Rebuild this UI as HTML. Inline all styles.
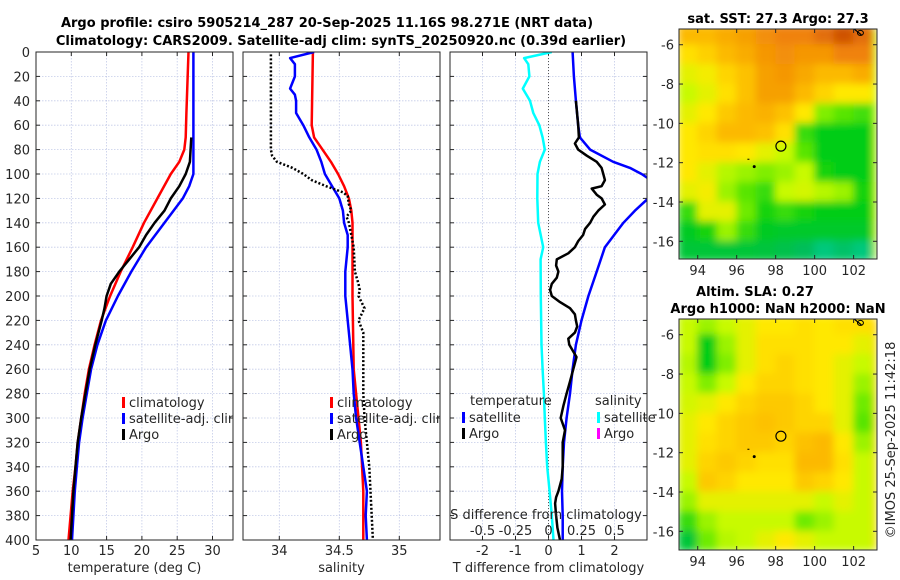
<!DOCTYPE html>
<html><head><meta charset="utf-8"><style>
body{margin:0;background:#fff}
svg{display:block;font-family:"DejaVu Sans","Liberation Sans",sans-serif}
</style></head><body>
<svg id="fig" width="900" height="580" xmlns="http://www.w3.org/2000/svg">
<text x="327" y="27" text-anchor="middle" font-size="13" font-weight="bold">Argo profile: csiro 5905214_287 20-Sep-2025 11.16S 98.271E (NRT data)</text>
<text x="341" y="45" text-anchor="middle" font-size="13" font-weight="bold">Climatology: CARS2009. Satellite-adj clim: synTS_20250920.nc (0.39d earlier)</text>
<text x="778" y="23" text-anchor="middle" font-size="13" font-weight="bold">sat. SST: 27.3 Argo: 27.3</text>
<text x="755" y="296" text-anchor="middle" font-size="13" font-weight="bold">Altim. SLA: 0.27</text>
<text x="778" y="313" text-anchor="middle" font-size="13" font-weight="bold">Argo h1000: NaN h2000: NaN</text>
<text transform="translate(895,440) rotate(-90)" text-anchor="middle" font-size="13" fill="#262626">©IMOS 25-Sep-2025 11:42:18</text>
<defs><filter id="blur" x="0" y="0" width="1" height="1"><feGaussianBlur stdDeviation="4" edgeMode="duplicate"/></filter></defs>
</svg>
<script>
// ---- data ----
const depthTicks=[0,20,40,60,80,100,120,140,160,180,200,220,240,260,280,300,320,340,360,380,400];
const tempTicks=[5,10,15,20,25,30];
const salTicks=[34,34.5,35];
const tdiffTicks=[-2,-1,0,1,2];
const sdiffTicks=[-0.5,-0.25,0,0.25,0.5];
const sdiffTickLabels=['-0.5','-0.25','0','0.25','0.5'];
const tClimDepth=[0,50,70,80,90,100,120,140,160,180,200,220,240,260,280,300,320,340,360,380,400];
const tClimVal=[26.6,26.3,26.2,26.0,25.3,24.1,22.2,20.3,18.7,17.0,15.5,14.2,13.3,12.5,11.9,11.4,10.9,10.6,10.2,9.9,9.6];
const tSatDepth=[0,100,110,120,140,160,180,200,220,240,260,280,300,320,340,360,380,400];
const tSatVal=[27.3,27.3,26.7,25.8,23.2,20.6,18.5,16.6,14.9,13.7,12.8,12.2,11.6,11.1,10.8,10.5,10.3,10.1];
const tArgoDepth=[70,90,100,110,120,130,140,150,160,170,180,190,200,210,220,240,260,280,300,320,340,360,380,400];
const tArgoVal=[27.0,26.8,26.2,25.3,24.1,23.2,21.8,20.6,19.6,18.2,16.8,15.6,15.0,14.7,14.3,13.4,12.6,12.0,11.4,10.9,10.6,10.3,10.1,9.9];
const sClimDepth=[0,60,70,80,90,100,110,120,130,140,200,260,280,300,320,340,360,400];
const sClimVal=[34.28,34.27,34.29,34.36,34.43,34.49,34.54,34.58,34.60,34.61,34.61,34.62,34.64,34.66,34.68,34.69,34.70,34.70];
const sSatDepth=[0,5,10,20,25,30,35,40,50,60,70,80,90,100,110,120,130,140,150,160,170,180,200,220,240,260,280,300,320,340,360,380,400];
const sSatVal=[34.29,34.09,34.13,34.13,34.11,34.09,34.13,34.14,34.14,34.20,34.25,34.31,34.35,34.38,34.44,34.50,34.53,34.54,34.57,34.57,34.56,34.55,34.55,34.57,34.59,34.61,34.62,34.64,34.67,34.70,34.73,34.72,34.73];
const sArgoDepth=[2,80,85,90,95,100,105,110,115,118,125,130,135,140,160,180,190,195,200,210,220,230,240,260,280,300,320,340,360,380,400];
const sArgoVal=[33.93,33.93,33.94,33.98,34.11,34.20,34.27,34.39,34.53,34.57,34.58,34.60,34.56,34.58,34.62,34.63,34.66,34.67,34.66,34.71,34.66,34.70,34.70,34.70,34.70,34.71,34.73,34.75,34.76,34.77,34.78];
const dTSatDepth=[0,20,40,60,70,80,90,95,100,105,110,115,120,130,140,160,180,200,220,240,260,280,300,320,340,360,380,400];
const dTSatVal=[0.73,0.77,0.83,0.90,0.95,1.26,1.96,2.47,2.82,3.1,3.3,3.3,3.02,2.62,2.27,1.71,1.46,1.21,1.0,0.83,0.73,0.65,0.55,0.47,0.43,0.41,0.43,0.43];
const dTArgoDepth=[40,60,70,75,80,85,90,95,100,105,110,112,117,120,125,130,135,140,145,150,155,160,165,170,175,180,185,190,195,200,205,210,215,220,225,230,235,240,250,255,260,270,280,290,300,310,320,340,350,360,365,370,380,390,400];
const dTArgoVal=[0.83,0.90,0.92,0.80,0.90,1.16,1.46,1.61,1.66,1.71,1.61,1.31,1.46,1.61,1.71,1.51,1.36,1.26,1.11,1.05,0.90,0.80,0.60,0.25,0.23,0.30,0.25,0.10,0.05,0.10,0.35,0.65,0.80,0.83,0.87,0.80,0.60,0.63,0.85,0.80,0.75,0.65,0.55,0.45,0.37,0.50,0.43,0.43,0.40,0.30,0.23,0.20,0.23,0.27,0.35];
const dSSatDepth=[0,5,10,20,30,40,50,60,70,80,90,100,120,140,160,170,200,240,260,280,300,320,340,360,380,400];
const dSSatVal=[0.025,-0.185,-0.153,-0.145,-0.195,-0.14,-0.115,-0.07,-0.045,-0.028,-0.065,-0.083,-0.085,-0.078,-0.04,-0.06,-0.058,-0.053,-0.045,-0.035,-0.028,-0.02,-0.01,0.008,0.025,0.038];
const mapLons=[93.5,94.5,95.5,96.5,97.5,98.5,99.5,100.5,101.5,102.5];
const mapLats=[-5.5,-6.5,-7.5,-8.5,-9.5,-10.5,-11.5,-12.5,-13.5,-14.5,-15.5,-16.5];
const sstGrid=[
[0.72,0.72,0.75,0.78,0.82,0.85,0.85,0.88,0.92,0.88],
[0.62,0.66,0.72,0.75,0.8,0.82,0.8,0.8,0.85,0.85],
[0.55,0.58,0.65,0.7,0.78,0.8,0.76,0.72,0.72,0.75],
[0.5,0.55,0.62,0.7,0.78,0.78,0.72,0.65,0.6,0.6],
[0.55,0.6,0.68,0.72,0.74,0.7,0.6,0.42,0.38,0.36],
[0.6,0.65,0.72,0.72,0.7,0.62,0.35,0.3,0.3,0.3],
[0.6,0.62,0.62,0.6,0.55,0.5,0.38,0.3,0.3,0.3],
[0.6,0.55,0.48,0.45,0.42,0.45,0.5,0.32,0.3,0.3],
[0.55,0.58,0.45,0.38,0.35,0.5,0.52,0.48,0.45,0.32],
[0.35,0.55,0.55,0.4,0.32,0.35,0.32,0.3,0.3,0.3],
[0.28,0.32,0.45,0.35,0.28,0.27,0.27,0.27,0.27,0.27],
[0.25,0.25,0.25,0.25,0.24,0.22,0.2,0.15,0.18,0.15]];
const slaGrid=[
[0.5,0.45,0.5,0.55,0.6,0.6,0.62,0.6,0.62,0.62],
[0.5,0.3,0.45,0.55,0.62,0.62,0.62,0.6,0.6,0.55],
[0.48,0.3,0.42,0.55,0.62,0.65,0.62,0.6,0.55,0.5],
[0.5,0.42,0.5,0.6,0.65,0.65,0.62,0.6,0.55,0.45],
[0.52,0.55,0.6,0.65,0.68,0.68,0.65,0.6,0.55,0.4],
[0.55,0.6,0.65,0.68,0.7,0.68,0.65,0.65,0.55,0.38],
[0.55,0.62,0.65,0.68,0.68,0.65,0.7,0.72,0.6,0.45],
[0.55,0.65,0.68,0.65,0.62,0.62,0.72,0.72,0.62,0.5],
[0.5,0.68,0.65,0.6,0.6,0.6,0.68,0.65,0.6,0.5],
[0.45,0.55,0.55,0.55,0.55,0.55,0.55,0.5,0.55,0.5],
[0.35,0.45,0.5,0.5,0.5,0.5,0.4,0.45,0.5,0.5],
[0.25,0.4,0.48,0.5,0.55,0.6,0.55,0.5,0.5,0.5]];
const lonTicks=[94,96,98,100,102];
const latTicks=[-6,-8,-10,-12,-14,-16];
const argoLon=98.27, argoLat=-11.16;

// ---- helpers ----
const NS='http://www.w3.org/2000/svg';
const svg=document.getElementById('fig');
function mk(tag,attrs,parent){const e=document.createElementNS(NS,tag);for(const k in attrs)e.setAttribute(k,attrs[k]);(parent||svg).appendChild(e);return e;}
const TOP=52,BOT=540;
const yD=d=>TOP+(d/400)*(BOT-TOP);
const tickCol='#262626';

function panel(name,x0,x1,xfun,xticks,xlabels,title,showY){
  const g=mk('g',{});
  
  
  mk('rect',{x:x0,y:TOP,width:x1-x0,height:BOT-TOP,fill:'#fff'},g);
  depthTicks.forEach(d=>{const l=mk('line',{x1:x0,x2:x1,y1:yD(d),y2:yD(d),stroke:'#c4cbe8','stroke-width':0.8,'stroke-dasharray':'1.5,1.5'},g);
    
    mk('line',{x1:x0,x2:x0+4,y1:yD(d),y2:yD(d),stroke:tickCol},g);mk('line',{x1:x1-4,x2:x1,y1:yD(d),y2:yD(d),stroke:tickCol},g);
    if(showY){const t=mk('text',{x:x0-6,y:yD(d)+5,'text-anchor':'end','font-size':13,fill:tickCol},g);t.textContent=d;
      }
  });
  xticks.forEach((v,i)=>{const X=xfun(v);
    const l=mk('line',{x1:X,x2:X,y1:TOP,y2:BOT,stroke:'#c4cbe8','stroke-width':0.8,'stroke-dasharray':'1.5,1.5'},g);
    
    mk('line',{x1:X,x2:X,y1:TOP,y2:TOP+4,stroke:tickCol},g);mk('line',{x1:X,x2:X,y1:BOT-4,y2:BOT,stroke:tickCol},g);
    const t=mk('text',{x:X,y:555,'text-anchor':'middle','font-size':13,fill:tickCol},g);t.textContent=xlabels[i];
    
  });
  const t=mk('text',{x:(x0+x1)/2,y:572,'text-anchor':'middle','font-size':13,fill:tickCol},g);t.textContent=title;
  
  return g;
}
function frame(g,x0,x1){mk('rect',{x:x0,y:TOP,width:x1-x0,height:BOT-TOP,fill:'none',stroke:tickCol,'stroke-width':1},g);}
function line(g,clip,depths,vals,xfun,color,name,dash){
  const pts=depths.map((d,i)=>xfun(vals[i]).toFixed(1)+','+yD(d).toFixed(1)).join(' ');
  const p=mk('polyline',{points:pts,fill:'none',stroke:color,'stroke-width':2.5,'stroke-linejoin':'round','clip-path':'url(#'+clip+')'},g);
  if(dash)p.setAttribute('stroke-dasharray',dash);
  
  
}
function clip(id,x0,x1){const c=mk('clipPath',{id:id});mk('rect',{x:x0,y:TOP,width:x1-x0,height:BOT-TOP},c);}
function legItem(g,x,y,color,label){
  mk('rect',{x:x,y:y-10,width:3,height:11,fill:color},g);
  const t=mk('text',{x:x+7,y:y,'font-size':13,fill:tickCol},g);t.textContent=label;
  
}

// panel 1: temperature
const xT=v=>36+(v-5)*7.06;
clip('c1',36,233);
const g1=panel('temperature-panel',36,233,xT,tempTicks,tempTicks.map(String),'temperature (deg C)',true);
line(g1,'c1',tClimDepth,tClimVal,xT,'#ff0000','temp-climatology-line');
line(g1,'c1',tSatDepth,tSatVal,xT,'#0000ff','temp-satellite-line');
line(g1,'c1',tArgoDepth,tArgoVal,xT,'#000','temp-argo-line');
legItem(g1,122,407,'#ff0000','climatology');legItem(g1,122,423,'#0000ff','satellite-adj. clim');legItem(g1,122,439,'#000','Argo');
mk('rect',{x:233.5,y:395,width:9,height:50,fill:'#fff'},g1);
frame(g1,36,233);

// panel 2: salinity
const xS=v=>279.3+(v-34)*120;
clip('c2',243,440);
const g2=panel('salinity-panel',243,440,xS,salTicks,salTicks.map(String),'salinity',false);
line(g2,'c2',sClimDepth,sClimVal,xS,'#ff0000','sal-climatology-line');
line(g2,'c2',sSatDepth,sSatVal,xS,'#0000ff','sal-satellite-line');
line(g2,'c2',sArgoDepth,sArgoVal,xS,'#000','sal-argo-line','2,2');
legItem(g2,330,407,'#ff0000','climatology');legItem(g2,330,423,'#0000ff','satellite-adj. clim');legItem(g2,330,439,'#000','Argo');
mk('rect',{x:440.5,y:395,width:9,height:50,fill:'#fff'},g2);
frame(g2,243,440);

// panel 3: differences
const xDT=v=>548.5+v*33;
const xDS=v=>548.5+v*4*33;
clip('c3',450,647);
const g3=panel('difference-panel',450,647,xDT,tdiffTicks,tdiffTicks.map(String),'T difference from climatology',false);
const zl=mk('line',{x1:xDT(0),x2:xDT(0),y1:TOP,y2:BOT,stroke:'#555','stroke-width':1,'stroke-dasharray':'1,2'},g3);

line(g3,'c3',dSSatDepth,dSSatVal,xDS,'#00ffff','sdiff-satellite-line');
line(g3,'c3',dTSatDepth,dTSatVal,xDT,'#0000ff','tdiff-satellite-line');
line(g3,'c3',dTArgoDepth,dTArgoVal,xDT,'#000','tdiff-argo-line');
let tt=mk('text',{x:470,y:405,'font-size':13,fill:tickCol},g3);tt.textContent='temperature';

tt=mk('text',{x:595,y:405,'font-size':13,fill:tickCol},g3);tt.textContent='salinity';

legItem(g3,462,422,'#0000ff','satellite');legItem(g3,462,438,'#000','Argo');
legItem(g3,597,422,'#00ffff','satellite');legItem(g3,597,438,'#ff00ff','Argo');
tt=mk('text',{x:546,y:519,'text-anchor':'middle','font-size':13,fill:tickCol},g3);tt.textContent='S difference from climatology';

sdiffTicks.forEach((v,i)=>{const t=mk('text',{x:xDS(v),y:535,'text-anchor':'middle','font-size':13,fill:tickCol},g3);t.textContent=sdiffTickLabels[i];
  });
frame(g3,450,647);

// maps
function cmap(v){
  const stops=[[0,[0,230,230]],[0.2,[0,190,90]],[0.3,[0,205,20]],[0.4,[110,235,0]],[0.5,[200,250,0]],[0.6,[255,232,0]],[0.72,[252,185,0]],[0.85,[240,130,10]],[1,[170,30,0]]];
  v=Math.max(0,Math.min(1,v));
  for(let i=1;i<stops.length;i++){if(v<=stops[i][0]){const a=stops[i-1],b=stops[i],f=(v-a[0])/(b[0]-a[0]);
    return 'rgb('+a[1].map((c,k)=>Math.round(c+(b[1][k]-c)*f)).join(',')+')';}}
  return 'rgb(170,30,0)';
}
function map(name,y0,y1,latTop,latBot,grid){
  const x0=679,x1=877,lonL=93.04,lonR=103.2;
  const X=l=>x0+(l-lonL)/(lonR-lonL)*(x1-x0);
  const Y=l=>y0+(latTop-l)/(latTop-latBot)*(y1-y0);
  const g=mk('g',{});
  
  
  const cid='clip-'+name;const c=mk('clipPath',{id:cid});mk('rect',{x:x0,y:y0,width:x1-x0,height:y1-y0},c);
  const inner=mk('g',{'clip-path':'url(#'+cid+')'},g);
  const hb=mk('g',{filter:'url(#blur)'},inner);
  mk('rect',{x:x0,y:y0,width:x1-x0,height:y1-y0,fill:cmap(grid[6][5])},hb);
  grid.forEach((row,r)=>row.forEach((v,cI)=>{
    const cx=mapLons[cI],cy=mapLats[r];
    const rx=mk('rect',{x:X(cx-0.5)-0.5,y:Y(cy+0.5)-0.5,width:X(cx+0.5)-X(cx-0.5)+1,height:Y(cy-0.5)-Y(cy+0.5)+1,fill:cmap(v)},hb);
    
    
  }));
  const m=mk('circle',{cx:X(argoLon),cy:Y(argoLat),r:5,fill:'none',stroke:'#000','stroke-width':1.2},inner);
  
  mk('circle',{cx:X(96.9),cy:Y(-12.2),r:1.5,fill:'#000'},inner);
  mk('rect',{x:X(96.55),y:Y(-11.8),width:2,height:1,fill:'#000'},inner);
  mk('ellipse',{cx:X(102.35),cy:Y(-5.4),rx:3,ry:2.5,fill:'none',stroke:'#000','stroke-width':1},inner);
  mk('line',{x1:X(101.9),y1:Y(-5.1),x2:X(102.4),y2:Y(-5.5),stroke:'#000','stroke-width':1.2},inner);
  mk('rect',{x:x0,y:y0,width:x1-x0,height:y1-y0,fill:'none',stroke:tickCol},g);
  lonTicks.forEach(l=>{mk('line',{x1:X(l),x2:X(l),y1:y1,y2:y1-4,stroke:tickCol},g);mk('line',{x1:X(l),x2:X(l),y1:y0,y2:y0+4,stroke:tickCol},g);
    const t=mk('text',{x:X(l),y:y1+16,'text-anchor':'middle','font-size':13,fill:tickCol},g);t.textContent=l;
    });
  latTicks.forEach(l=>{mk('line',{x1:x0,x2:x0+4,y1:Y(l),y2:Y(l),stroke:tickCol},g);mk('line',{x1:x1,x2:x1-4,y1:Y(l),y2:Y(l),stroke:tickCol},g);
    const t=mk('text',{x:x0-5,y:Y(l)+5,'text-anchor':'end','font-size':13,fill:tickCol},g);t.textContent=l;
    });
}
map('sst-map',29,259,-5.2,-16.9,sstGrid);
map('sla-map',319,550,-5.2,-16.95,slaGrid);
</script>
</body></html>
